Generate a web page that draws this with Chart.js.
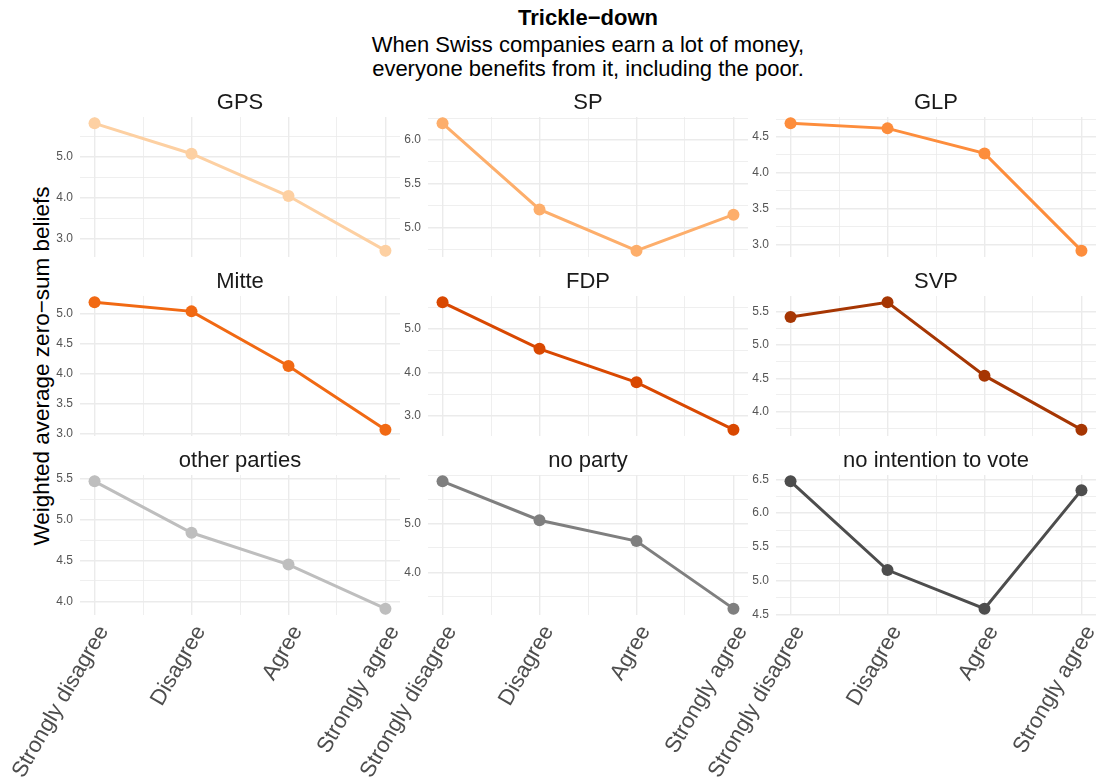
<!DOCTYPE html>
<html>
<head>
<meta charset="utf-8">
<script src="https://cdn.jsdelivr.net/npm/chart.js@4.4.1/dist/chart.umd.min.js"></script>
<style>
  body { margin: 0; background: #fff; font-family: "Liberation Sans", Arial, sans-serif; }
  #wrap { position: relative; width: 1098px; height: 784px; overflow: hidden; }
  #wrap canvas { position: absolute; }
  .head { position: absolute; left: 0; width: 1176px; text-align: center; color: #000; }
  #title { top: 5px; font-weight: bold; font-size: 22px; }
  #subtitle { top: 33px; font-size: 22px; line-height: 24px; }
  #ylab { position: absolute; left: 42px; top: 366px; font-size: 22.5px; color: #000;
          transform: translate(-50%, -50%) rotate(-90deg); white-space: nowrap; }
</style>
</head>
<body>
<div id="wrap">
  <div class="head" id="title">Trickle−down</div>
  <div class="head" id="subtitle">When Swiss companies earn a lot of money,<br>everyone benefits from it, including the poor.</div>
  <div id="ylab">Weighted average zero−sum beliefs</div>
</div>
<script>
// categories on the x axis
const categories = ['Strongly disagree', 'Disagree', 'Agree', 'Strongly agree'];

// one panel per party
const parties = ['GPS', 'SP', 'GLP', 'Mitte', 'FDP', 'SVP', 'other parties', 'no party', 'no intention to vote'];
const partyColors = ['#FDD0A2', '#FDAE6B', '#FD8D3C', '#F16913', '#D94801', '#A63603', '#BEBEBE', '#7F7F7F', '#4D4D4D'];

// values
const gpsValues = [5.81, 5.07, 4.04, 2.71];
const spValues = [6.19, 5.21, 4.74, 5.15];
const glpValues = [4.69, 4.62, 4.27, 2.91];
const mitteValues = [5.19, 5.04, 4.13, 3.07];
const fdpValues = [5.61, 4.54, 3.77, 2.68];
const svpValues = [5.42, 5.64, 4.54, 3.73];
const otherValues = [5.47, 4.84, 4.45, 3.91];
const noPartyValues = [5.87, 5.07, 4.64, 3.25];
const noVoteValues = [6.47, 5.16, 4.59, 6.34];

// labelled y ticks for each panel
const gpsTicks = [3.0, 4.0, 5.0];
const spTicks = [5.0, 5.5, 6.0];
const glpTicks = [3.0, 3.5, 4.0, 4.5];
const mitteTicks = [3.0, 3.5, 4.0, 4.5, 5.0];
const fdpTicks = [3.0, 4.0, 5.0];
const svpTicks = [4.0, 4.5, 5.0, 5.5];
const otherTicks = [4.0, 4.5, 5.0, 5.5];
const noPartyTicks = [4.0, 5.0];
const noVoteTicks = [4.5, 5.0, 5.5, 6.0, 6.5];

const allValues = [gpsValues, spValues, glpValues, mitteValues, fdpValues, svpValues, otherValues, noPartyValues, noVoteValues];
const allTicks = [gpsTicks, spTicks, glpTicks, mitteTicks, fdpTicks, svpTicks, otherTicks, noPartyTicks, noVoteTicks];

// layout of the facet grid (plot areas)
const colLeft = [80, 428, 776];
const rowTop = [117, 296, 475];
const plotW = 320, plotH = 140;
const axisW = 45, stripH = 30, padLeft = 45, padRight = 30;
const bottomAxisH = 784 - (rowTop[2] + plotH);

const FONT = '"Liberation Sans", Arial, sans-serif';
const wrap = document.getElementById('wrap');

parties.forEach((party, k) => {
    const row = Math.floor(k / 3), col = k % 3;
    const isBottom = row === 2;
    const values = allValues[k];
    const major = allTicks[k];
    const color = partyColors[k];

    // ggplot-like 5% expansion
    const lo = Math.min(...values), hi = Math.max(...values);
    const ymin = lo - 0.05 * (hi - lo), ymax = hi + 0.05 * (hi - lo);
    const half = (major[1] - major[0]) / 2;
    const gridVals = [];
    for (let v = Math.ceil(ymin / half - 1e-9) * half; v <= ymax + 1e-9; v += half) gridVals.push(+v.toFixed(4));
    const isMajor = v => major.some(m => Math.abs(m - v) < 1e-6);

    const canvas = document.createElement('canvas');
    const w = padLeft + axisW + plotW + padRight;
    const h = stripH + plotH + (isBottom ? bottomAxisH : 10);
    canvas.width = w; canvas.height = h;
    canvas.style.left = (colLeft[col] - axisW - padLeft) + 'px';
    canvas.style.top = (rowTop[row] - stripH) + 'px';
    wrap.appendChild(canvas);

    new Chart(canvas.getContext('2d'), {
        type: 'line',
        data: {
            datasets: [{
                data: values.map((v, i) => ({ x: i, y: v })),
                borderColor: color,
                backgroundColor: color,
                borderWidth: 3,
                pointRadius: 6,
                pointHoverRadius: 6,
                pointBorderWidth: 0,
                tension: 0,
                clip: false
            }]
        },
        options: {
            responsive: false,
            animation: false,
            events: [],
            layout: { padding: { left: padLeft, top: 0, right: padRight, bottom: isBottom ? 0 : 10 } },
            plugins: {
                legend: { display: false },
                tooltip: { enabled: false },
                title: {
                    display: true,
                    fullSize: false,
                    text: party,
                    color: '#1A1A1A',
                    font: { family: FONT, size: 22, weight: 'normal', lineHeight: 1.2 },
                    padding: { top: 3, bottom: 0.6 }
                }
            },
            scales: {
                x: {
                    type: 'linear',
                    min: -0.15,
                    max: 3.15,
                    afterBuildTicks: s => { s.ticks = [0, 0.5, 1, 1.5, 2, 2.5, 3].map(v => ({ value: v })); },
                    afterFit: s => { s.height = isBottom ? bottomAxisH : 0; s.paddingLeft = 0; s.paddingRight = 0; },
                    border: { display: false },
                    grid: {
                        color: '#EBEBEB',
                        drawTicks: false,
                        lineWidth: c => Number.isInteger(c.tick.value) ? 1.4 : 0.8
                    },
                    ticks: {
                        display: isBottom,
                        autoSkip: false,
                        minRotation: 60,
                        maxRotation: 60,
                        padding: 6,
                        labelOffset: 9,
                        color: '#4D4D4D',
                        font: { family: FONT, size: 22 },
                        callback: v => Number.isInteger(v) ? categories[v] : ''
                    }
                },
                y: {
                    min: ymin,
                    max: ymax,
                    afterBuildTicks: s => { s.ticks = gridVals.map(v => ({ value: v })); },
                    afterFit: s => { s.width = axisW; s.paddingTop = 0; s.paddingBottom = 0; },
                    border: { display: false },
                    grid: {
                        color: '#EBEBEB',
                        drawTicks: false,
                        lineWidth: c => isMajor(c.tick.value) ? 1.4 : 0.8
                    },
                    ticks: {
                        padding: 7,
                        color: '#555555',
                        font: { family: FONT, size: 12 },
                        callback: v => isMajor(v) ? v.toFixed(1) : ''
                    }
                }
            }
        }
    });
});
</script>
</body>
</html>
